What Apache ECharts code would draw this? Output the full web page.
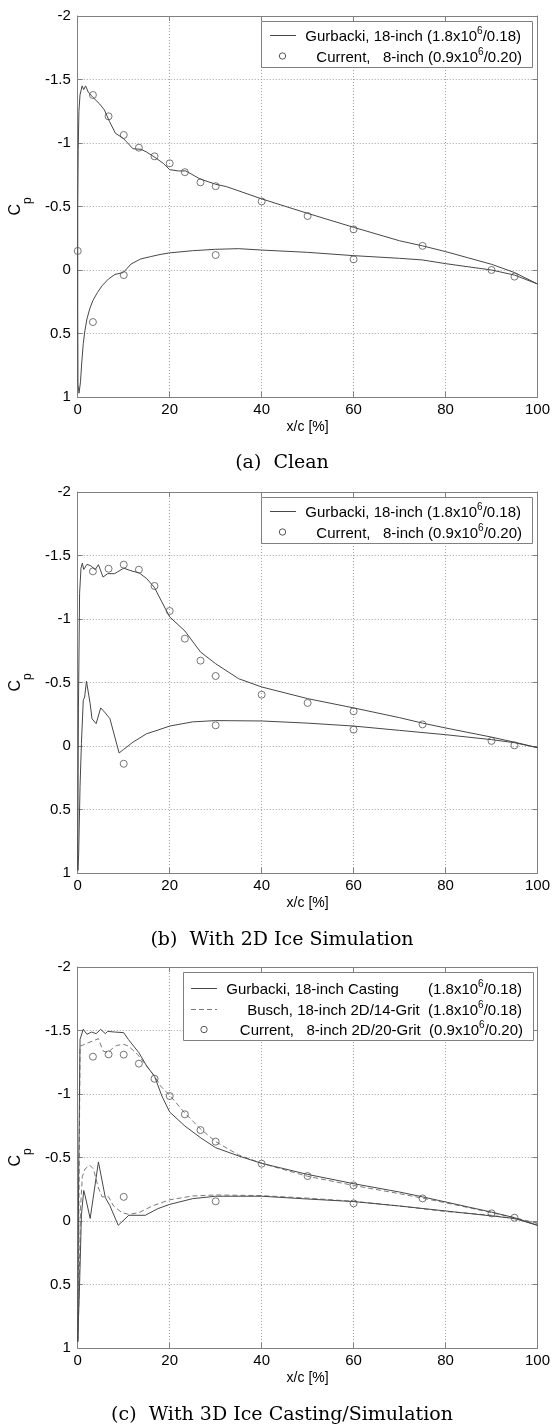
<!DOCTYPE html>
<html>
<head>
<meta charset="utf-8">
<script src="https://cdn.jsdelivr.net/npm/echarts@6.0.0/dist/echarts.min.js"></script>
<style>
html,body{margin:0;padding:0;background:#fff;}
#chart{width:553px;height:1426px;}
</style>
</head>
<body>
<div id="chart"></div>
<script>
// ---------------- DATA ----------------
const xTicks = [0, 20, 40, 60, 80, 100];
const yTicks = [-2, -1.5, -1, -0.5, 0, 0.5, 1];

// (a) Clean — Gurbacki 18-inch
const aGurUpX  = [0, 0.1, 0.25, 0.5, 0.95, 1.3, 1.7, 2.3, 3.3, 4.7, 5.8, 6.9, 8.2, 9.8, 10.6, 12.0, 13.8, 14.9, 16.8, 18.6, 20.0, 21.9, 23.5, 26.6, 30, 32.4, 40, 50, 60, 70, 75, 80, 85, 90, 95, 100];
const aGurUpCp = [-0.5, -0.95, -1.25, -1.38, -1.45, -1.42, -1.45, -1.40, -1.36, -1.31, -1.26, -1.17, -1.076, -1.04, -1.01, -0.955, -0.95, -0.93, -0.887, -0.84, -0.79, -0.78, -0.78, -0.717, -0.675, -0.656, -0.56, -0.446, -0.336, -0.23, -0.19, -0.145, -0.095, -0.045, 0.02, 0.11];
const aGurLoX  = [0, 0.05, 0.28, 0.6, 0.85, 1.2, 1.55, 2.0, 2.6, 3.3, 4.3, 5.3, 6.7, 8.1, 9.9, 11.6, 13.7, 15.8, 17.9, 20, 25, 30, 35, 40, 50, 60, 70, 75, 80, 90, 95, 100];
const aGurLoCp = [0.3, 0.9, 0.97, 0.88, 0.74, 0.58, 0.48, 0.385, 0.307, 0.24, 0.176, 0.124, 0.07, 0.035, 0.02, -0.047, -0.087, -0.105, -0.122, -0.135, -0.152, -0.163, -0.168, -0.157, -0.139, -0.113, -0.092, -0.079, -0.05, 0.0, 0.04, 0.11];
// (a) Current 8-inch
const aCurUpX  = [0, 3.3, 6.7, 10, 13.3, 16.7, 20, 23.3, 26.7, 30, 40, 50, 60, 75, 90, 95];
const aCurUpCp = [-0.15, -1.378, -1.21, -1.063, -0.963, -0.895, -0.84, -0.77, -0.69, -0.66, -0.54, -0.425, -0.32, -0.19, 0.0, 0.052];
const aCurLoX  = [3.3, 10, 30, 60];
const aCurLoCp = [0.41, 0.04, -0.118, -0.084];

// (b) 2D ice simulation — Gurbacki 18-inch
const bGurUpX  = [0, 0.15, 0.4, 0.7, 1.0, 1.3, 2.0, 2.8, 3.8, 4.5, 5.5, 6.5, 8, 10, 12, 13.3, 15, 16.7, 18.3, 20, 23.3, 26.7, 30, 35, 40, 50, 60, 70, 75, 80, 90, 95, 100];
const bGurUpCp = [0.95, -0.3, -1.2, -1.4, -1.44, -1.39, -1.43, -1.42, -1.388, -1.428, -1.33, -1.357, -1.357, -1.40, -1.375, -1.365, -1.318, -1.247, -1.134, -1.016, -0.906, -0.74, -0.648, -0.53, -0.465, -0.373, -0.30, -0.223, -0.18, -0.142, -0.07, -0.03, 0.013];
const bGurLoX  = [0.05, 0.2, 0.5, 0.8, 1.2, 1.5, 1.9, 2.7, 3.1, 4.0, 5.0, 6.0, 7.0, 9.0, 10, 12, 15, 17, 20, 25, 30, 40, 50, 60, 70, 80, 90, 95, 100];
const bGurLoCp = [0.98, 0.85, 0.32, -0.02, -0.36, -0.386, -0.51, -0.333, -0.215, -0.176, -0.30, -0.26, -0.215, 0.055, 0.026, -0.03, -0.097, -0.12, -0.157, -0.19, -0.20, -0.197, -0.18, -0.157, -0.123, -0.089, -0.05, -0.026, 0.013];
// (b) Current 8-inch
const bCurUpX  = [3.3, 6.7, 10, 13.3, 16.7, 20, 23.3, 26.7, 30, 40, 50, 60, 75, 90, 95];
const bCurUpCp = [-1.375, -1.396, -1.428, -1.388, -1.26, -1.063, -0.845, -0.672, -0.551, -0.404, -0.339, -0.273, -0.17, -0.04, -0.005];
const bCurLoX  = [10, 30, 60];
const bCurLoCp = [0.14, -0.163, -0.129];

// (c) 3D ice casting / simulation — Gurbacki 18-inch casting
const cGurUpX  = [0, 0.2, 0.5, 1.2, 2, 3, 4, 5, 6, 6.5, 8, 10, 11, 13.3, 15, 16.7, 18.3, 20, 23.3, 26.7, 30, 35, 40, 50, 60, 70, 75, 80, 90, 95, 100];
const cGurUpCp = [0.95, -0.38, -1.43, -1.51, -1.47, -1.488, -1.475, -1.509, -1.475, -1.493, -1.488, -1.483, -1.43, -1.325, -1.22, -1.14, -0.984, -0.858, -0.748, -0.656, -0.577, -0.512, -0.454, -0.367, -0.294, -0.228, -0.19, -0.15, -0.07, -0.026, 0.034];
const cGurLoX  = [0.1, 0.4, 0.8, 1.3, 1.6, 2.7, 4.5, 6.0, 7.0, 8.8, 11.1, 14.7, 17.4, 20, 25, 30, 40, 50, 60, 70, 80, 90, 95, 100];
const cGurLoCp = [0.95, 0.5, -0.05, -0.24, -0.2, -0.02, -0.465, -0.184, -0.12, 0.034, -0.045, -0.045, -0.097, -0.131, -0.176, -0.195, -0.195, -0.173, -0.153, -0.118, -0.079, -0.04, -0.02, 0.034];
// (c) Busch 18-inch 2D/14-grit
const cBusUpX  = [0.05, 0.5, 1, 2, 3.5, 4.5, 5.5, 6.5, 7.5, 8.5, 10, 11, 13, 15, 16.7, 18, 20, 23.3, 26.7, 30, 35, 40, 50, 60, 70, 80, 90, 95, 100];
const cBusUpCp = [0.95, -1.378, -1.383, -1.40, -1.42, -1.436, -1.339, -1.325, -1.357, -1.383, -1.391, -1.378, -1.312, -1.22, -1.14, -1.063, -0.99, -0.85, -0.725, -0.625, -0.52, -0.454, -0.352, -0.28, -0.215, -0.144, -0.066, -0.026, 0.018];
const cBusLoX  = [0.05, 0.3, 0.6, 1.0, 1.6, 2.6, 3.4, 4.5, 5.3, 6.7, 7.8, 9.6, 11.1, 13.3, 16.2, 20, 25, 30, 40, 50, 60, 70, 80, 90, 95, 100];
const cBusLoCp = [0.95, 0.5, -0.1, -0.35, -0.41, -0.44, -0.41, -0.26, -0.19, -0.19, -0.118, -0.066, -0.052, -0.066, -0.118, -0.167, -0.197, -0.205, -0.2, -0.18, -0.155, -0.118, -0.075, -0.045, -0.018, 0.018];
// (c) Current 8-inch 2D/20-grit
const cCurUpX  = [3.3, 6.7, 10, 13.3, 16.7, 20, 23.3, 26.7, 30, 40, 50, 60, 75, 90, 95];
const cCurUpCp = [-1.294, -1.312, -1.31, -1.239, -1.12, -0.984, -0.84, -0.716, -0.625, -0.451, -0.354, -0.28, -0.178, -0.06, -0.026];
const cCurLoX  = [10, 30, 60];
const cCurLoCp = [-0.19, -0.155, -0.139];

const captions = ['(a)  Clean', '(b)  With 2D Ice Simulation', '(c)  With 3D Ice Casting/Simulation'];
const legendA = ['{t|Gurbacki, 18-inch (1.8x10}{s|6}{t|/0.18)}', '{t|Current,   8-inch (0.9x10}{s|6}{t|/0.20)}'];
const legendC = ['{t|Gurbacki, 18-inch Casting       (1.8x10}{s|6}{t|/0.18)}',
                 '{t|Busch, 18-inch 2D/14-Grit  (1.8x10}{s|6}{t|/0.18)}',
                 '{t|Current,   8-inch 2D/20-Grit  (0.9x10}{s|6}{t|/0.20)}'];

// ---------------- LAYOUT / STYLE ----------------
const tops = [16, 492, 967];
const GL = 55, GW = 484, GH = 381;
const SANS = 'Liberation Sans, Arial, sans-serif';
const SERIF = 'DejaVu Serif, serif';
const AX = '#808080';
const LINE = '#474747';
const FS = 15;

const pts = (xs, ys) => xs.map((x, i) => [x, ys[i]]);
const loop = (ux, uy, lx, ly) => pts(ux, uy).reverse().concat(pts(lx, ly));

const chart = echarts.init(document.getElementById('chart'), null, {renderer: 'canvas'});

const grids = [], xAxes = [], yAxes = [];
tops.forEach((t) => {
  grids.push({left: GL, top: t, width: GW, height: GH, show: false});
});
// bottom x axes 0..2
tops.forEach((t, i) => {
  xAxes.push({
    gridIndex: i, type: 'value', min: 0, max: 100, interval: 20, position: 'bottom',
    axisLine: {show: true, onZero: false, lineStyle: {color: AX, width: 1}},
    axisTick: {show: true, inside: true, length: 5, lineStyle: {color: AX}},
    axisLabel: {color: '#000', fontSize: FS, fontFamily: SANS, margin: 5},
    splitLine: {show: true, lineStyle: {color: '#a0a0a0', type: [1, 2], width: 1}},
    name: 'x/c [%]', nameLocation: 'middle', nameGap: 23,
    nameTextStyle: {color: '#000', fontSize: 14, fontFamily: SANS}
  });
});
// top x axes 3..5 (box)
tops.forEach((t, i) => {
  xAxes.push({
    gridIndex: i, type: 'value', min: 0, max: 100, interval: 20, position: 'top',
    axisLine: {show: true, onZero: false, lineStyle: {color: AX, width: 1}},
    axisTick: {show: true, inside: true, length: 5, lineStyle: {color: AX}},
    axisLabel: {show: false}, splitLine: {show: false}
  });
});
// left y axes 0..2
tops.forEach((t, i) => {
  yAxes.push({
    gridIndex: i, type: 'value', inverse: true, min: -2, max: 1, interval: 0.5, position: 'left',
    axisLine: {show: true, onZero: false, lineStyle: {color: AX, width: 1}},
    axisTick: {show: true, inside: true, length: 5, lineStyle: {color: AX}},
    axisLabel: {color: '#000', fontSize: FS, fontFamily: SANS, margin: 7,
                formatter: (v) => String(v)},
    splitLine: {show: true, lineStyle: {color: '#a0a0a0', type: [1, 2], width: 1}},
    name: '{c|C}{p|p}', nameLocation: 'middle', nameRotate: 90, nameGap: 19,
    nameTextStyle: {
      color: '#000', fontFamily: SANS,
      rich: {
        c: {fontSize: 16, fontFamily: SANS, lineHeight: 26, verticalAlign: 'top', color: '#000'},
        p: {fontSize: 12, fontFamily: SANS, lineHeight: 12, verticalAlign: 'bottom', color: '#000'}
      }
    }
  });
});
// right y axes 3..5 (box)
tops.forEach((t, i) => {
  yAxes.push({
    gridIndex: i, type: 'value', inverse: true, min: -2, max: 1, interval: 0.5, position: 'right',
    axisLine: {show: true, onZero: false, lineStyle: {color: AX, width: 1}},
    axisTick: {show: true, inside: true, length: 5, lineStyle: {color: AX}},
    axisLabel: {show: false}, splitLine: {show: false}
  });
});

const lineSeries = (name, i, data, dashed, color) => ({
  name, type: 'line', xAxisIndex: i, yAxisIndex: i, data,
  showSymbol: false, symbol: 'none', smooth: false, clip: true,
  lineStyle: {color: color || LINE, width: 1, type: dashed ? [5, 3] : 'solid'},
  z: 3
});
const scatterSeries = (name, i, data) => ({
  name, type: 'scatter', xAxisIndex: i, yAxisIndex: i, data,
  symbol: 'circle', symbolSize: 7,
  itemStyle: {color: 'rgba(0,0,0,0)', borderColor: '#555', borderWidth: 1},
  z: 4
});

const series = [
  lineSeries('Gurbacki, 18-inch (a)', 0, loop(aGurUpX, aGurUpCp, aGurLoX, aGurLoCp)),
  scatterSeries('Current, 8-inch (a)', 0, pts(aCurUpX, aCurUpCp).concat(pts(aCurLoX, aCurLoCp))),
  lineSeries('Gurbacki, 18-inch (b)', 1, loop(bGurUpX, bGurUpCp, bGurLoX, bGurLoCp)),
  scatterSeries('Current, 8-inch (b)', 1, pts(bCurUpX, bCurUpCp).concat(pts(bCurLoX, bCurLoCp))),
  lineSeries('Busch, 18-inch 2D/14-Grit', 2, loop(cBusUpX, cBusUpCp, cBusLoX, cBusLoCp), true, '#7a7a7a'),
  lineSeries('Gurbacki, 18-inch Casting', 2, loop(cGurUpX, cGurUpCp, cGurLoX, cGurLoCp)),
  scatterSeries('Current, 8-inch 2D/20-Grit', 2, pts(cCurUpX, cCurUpCp).concat(pts(cCurLoX, cCurLoCp)))
];

// ---------------- LEGENDS & CAPTIONS (graphic) ----------------
const rich = {
  t: {fontSize: FS, fontFamily: SANS, lineHeight: 18, verticalAlign: 'bottom', color: '#000'},
  s: {fontSize: 10, fontFamily: SANS, lineHeight: 8, verticalAlign: 'top', color: '#000'}
};
const graphic = [];
function legendBox(x, y, w, h) {
  graphic.push({type: 'rect', shape: {x: x + 0.5, y: y + 0.5, width: w, height: h},
    style: {fill: '#fff', stroke: AX, lineWidth: 1}, z: 100});
}
function legendLine(x1, x2, y, dashed, color) {
  graphic.push({type: 'line', shape: {x1, y1: y + 0.5, x2, y2: y + 0.5},
    style: {stroke: color || LINE, lineWidth: 1, lineDash: dashed ? [5, 3] : null}, z: 101});
}
function legendCircle(cx, cy) {
  graphic.push({type: 'circle', shape: {cx, cy, r: 3.2},
    style: {fill: 'none', stroke: '#555', lineWidth: 1}, z: 101});
}
function legendText(str, x, y) {
  graphic.push({type: 'text', x, y, z: 101,
    style: {text: str, align: 'right', verticalAlign: 'middle', rich, fill: '#000'}});
}
// panels a, b
[0, 1].forEach((i) => {
  const d = tops[i] - tops[0];
  legendBox(261, 21 + d, 271, 46);
  legendLine(270, 296, 35 + d);
  legendText(legendA[0], 521, 35 + d);
  legendCircle(282.5, 56 + d);
  legendText(legendA[1], 522, 56 + d);
});
// panel c
legendBox(183, 972, 350, 68);
legendLine(191, 217, 988);
legendText(legendC[0], 522, 988);
legendLine(191, 217, 1009, true, '#7a7a7a');
legendText(legendC[1], 522, 1009);
legendCircle(204, 1029.5);
legendText(legendC[2], 523, 1029.5);

// captions
const capY = [463, 940, 1415];
captions.forEach((c, i) => {
  graphic.push({type: 'text', x: 282, y: capY[i], z: 101,
    style: {text: c, align: 'center', verticalAlign: 'middle', fontSize: 19, fontFamily: SERIF, fill: '#000'}});
});

chart.setOption({
  animation: false,
  backgroundColor: '#fff',
  grid: grids,
  xAxis: xAxes,
  yAxis: yAxes,
  series,
  graphic
});
</script>
</body>
</html>
